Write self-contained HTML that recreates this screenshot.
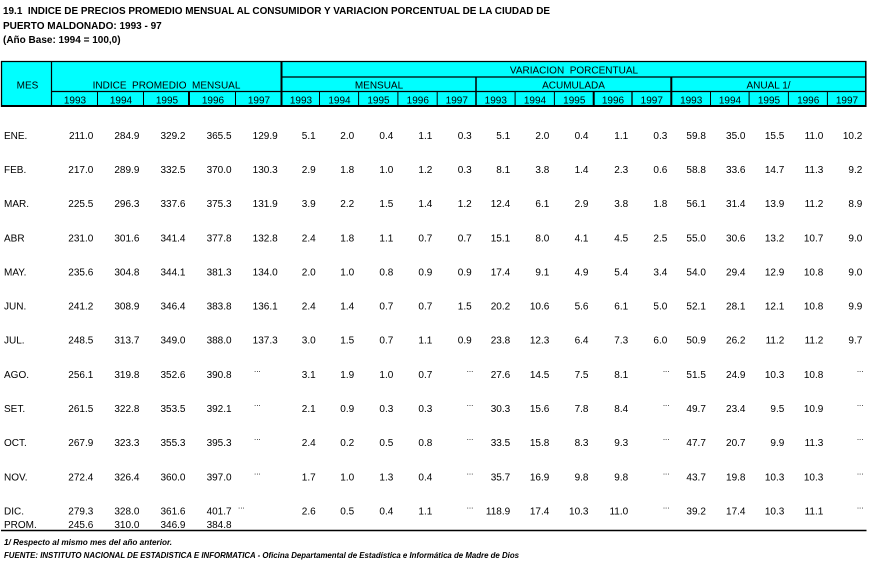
<!DOCTYPE html>
<html><head><meta charset="utf-8"><style>
html,body{margin:0;padding:0;background:#fff;width:869px;height:563px;overflow:hidden}
svg text{font-family:"Liberation Sans",Arial,sans-serif;font-size:10px;fill:#000;white-space:pre}
.r text{text-anchor:end}
.r text.m{text-anchor:start}
.c text{text-anchor:middle}
.d{font-size:8px}
.b{font-weight:bold}
.f{font-weight:bold;font-style:italic;font-size:8px}
</style></head><body>
<svg width="869" height="563" viewBox="0 0 869 563" xmlns="http://www.w3.org/2000/svg">
<rect width="869" height="563" fill="#fff"/>
<text class="b" x="3" y="14" textLength="547" lengthAdjust="spacingAndGlyphs">19.1  INDICE DE PRECIOS PROMEDIO MENSUAL AL CONSUMIDOR Y VARIACION PORCENTUAL DE LA CIUDAD DE</text>
<text class="b" x="3" y="29">PUERTO MALDONADO: 1993 - 97</text>
<text class="b" x="3" y="43">(Año Base: 1994 = 100,0)</text>

<!-- header -->
<rect x="1" y="61" width="865" height="45" fill="#00FFFF"/>
<g stroke="#000" fill="none">
<line x1="1" y1="61.5" x2="866.5" y2="61.5" stroke-width="1.3"/>
<line x1="1.5" y1="61" x2="1.5" y2="107" stroke-width="1.3"/>
<line x1="865.8" y1="61" x2="865.8" y2="107" stroke-width="1.5"/>
<line x1="1" y1="106" x2="866.5" y2="106" stroke-width="2"/>
<line x1="51.5" y1="61" x2="51.5" y2="106" stroke-width="1.2"/>
<line x1="51" y1="91.5" x2="281" y2="91.5" stroke-width="1.2"/>
<line x1="97.5" y1="91.5" x2="97.5" y2="106" stroke-width="1"/>
<line x1="143.5" y1="91.5" x2="143.5" y2="106" stroke-width="1"/>
<line x1="189" y1="91.5" x2="189" y2="106" stroke-width="2"/>
<line x1="235.5" y1="91.5" x2="235.5" y2="106" stroke-width="1"/>
<line x1="281.5" y1="61" x2="281.5" y2="106" stroke-width="2"/>
<line x1="282" y1="77" x2="866" y2="77" stroke-width="1.2"/>
<line x1="282" y1="91.5" x2="866" y2="91.5" stroke-width="1.2"/>
<line x1="476" y1="77" x2="476" y2="106" stroke-width="1.5"/>
<line x1="671.3" y1="77" x2="671.3" y2="106" stroke-width="2"/>
<line x1="319.5" y1="91.5" x2="319.5" y2="106" stroke-width="1"/>
<line x1="358.6" y1="91.5" x2="358.6" y2="106" stroke-width="1"/>
<line x1="397.9" y1="91.5" x2="397.9" y2="106" stroke-width="1"/>
<line x1="437.2" y1="91.5" x2="437.2" y2="106" stroke-width="1"/>
<line x1="515.1" y1="91.5" x2="515.1" y2="106" stroke-width="1"/>
<line x1="554.4" y1="91.5" x2="554.4" y2="106" stroke-width="1"/>
<line x1="593.7" y1="91.5" x2="593.7" y2="106" stroke-width="2"/>
<line x1="632" y1="91.5" x2="632" y2="106" stroke-width="1.3"/>
<line x1="710.5" y1="91.5" x2="710.5" y2="106" stroke-width="1"/>
<line x1="749.1" y1="91.5" x2="749.1" y2="106" stroke-width="1"/>
<line x1="788.4" y1="91.5" x2="788.4" y2="106" stroke-width="1"/>
<line x1="827.4" y1="91.5" x2="827.4" y2="106" stroke-width="1"/>
<line x1="1" y1="530.5" x2="866.5" y2="530.5" stroke-width="1.5"/>
</g>
<g class="c">
<text x="27.5" y="88.5">MES</text>
<text x="166.5" y="88.5">INDICE  PROMEDIO  MENSUAL</text>
<text x="574" y="73.5">VARIACION  PORCENTUAL</text>
<text x="379" y="88.5">MENSUAL</text>
<text x="573.5" y="88.5">ACUMULADA</text>
<text x="768.5" y="88.5">ANUAL 1/</text>
</g>
<g class="c" transform="translate(0,103.5)">
<text x="75">1993</text><text x="121">1994</text><text x="167">1995</text><text x="213">1996</text><text x="259">1997</text>
<text x="301">1993</text><text x="339.5">1994</text><text x="378.5">1995</text><text x="417.8">1996</text><text x="456.8">1997</text>
<text x="495.8">1993</text><text x="535">1994</text><text x="574.3">1995</text><text x="613">1996</text><text x="651.8">1997</text>
<text x="691.2">1993</text><text x="730">1994</text><text x="769">1995</text><text x="808.2">1996</text><text x="847">1997</text>
</g>

<!-- rows -->
<g class="r" transform="translate(0,138.8)">
<text class="m" x="4">ENE.</text>
<text x="93.3">211.0</text><text x="139.4">284.9</text><text x="185.5">329.2</text><text x="231.6">365.5</text><text x="277.7">129.9</text>
<text x="315.7">5.1</text><text x="354.2">2.0</text><text x="393.3">0.4</text><text x="432.3">1.1</text><text x="471.7">0.3</text>
<text x="510.2">5.1</text><text x="549.3">2.0</text><text x="588.5">0.4</text><text x="628.2">1.1</text><text x="667.3">0.3</text>
<text x="705.9">59.8</text><text x="745.5">35.0</text><text x="784.3">15.5</text><text x="823.3">11.0</text><text x="862.3">10.2</text>
</g>
<g class="r" transform="translate(0,173)">
<text class="m" x="4">FEB.</text>
<text x="93.3">217.0</text><text x="139.4">289.9</text><text x="185.5">332.5</text><text x="231.6">370.0</text><text x="277.7">130.3</text>
<text x="315.7">2.9</text><text x="354.2">1.8</text><text x="393.3">1.0</text><text x="432.3">1.2</text><text x="471.7">0.3</text>
<text x="510.2">8.1</text><text x="549.3">3.8</text><text x="588.5">1.4</text><text x="628.2">2.3</text><text x="667.3">0.6</text>
<text x="705.9">58.8</text><text x="745.5">33.6</text><text x="784.3">14.7</text><text x="823.3">11.3</text><text x="862.3">9.2</text>
</g>
<g class="r" transform="translate(0,207.1)">
<text class="m" x="4">MAR.</text>
<text x="93.3">225.5</text><text x="139.4">296.3</text><text x="185.5">337.6</text><text x="231.6">375.3</text><text x="277.7">131.9</text>
<text x="315.7">3.9</text><text x="354.2">2.2</text><text x="393.3">1.5</text><text x="432.3">1.4</text><text x="471.7">1.2</text>
<text x="510.2">12.4</text><text x="549.3">6.1</text><text x="588.5">2.9</text><text x="628.2">3.8</text><text x="667.3">1.8</text>
<text x="705.9">56.1</text><text x="745.5">31.4</text><text x="784.3">13.9</text><text x="823.3">11.2</text><text x="862.3">8.9</text>
</g>
<g class="r" transform="translate(0,241.3)">
<text class="m" x="4">ABR</text>
<text x="93.3">231.0</text><text x="139.4">301.6</text><text x="185.5">341.4</text><text x="231.6">377.8</text><text x="277.7">132.8</text>
<text x="315.7">2.4</text><text x="354.2">1.8</text><text x="393.3">1.1</text><text x="432.3">0.7</text><text x="471.7">0.7</text>
<text x="510.2">15.1</text><text x="549.3">8.0</text><text x="588.5">4.1</text><text x="628.2">4.5</text><text x="667.3">2.5</text>
<text x="705.9">55.0</text><text x="745.5">30.6</text><text x="784.3">13.2</text><text x="823.3">10.7</text><text x="862.3">9.0</text>
</g>
<g class="r" transform="translate(0,275.4)">
<text class="m" x="4">MAY.</text>
<text x="93.3">235.6</text><text x="139.4">304.8</text><text x="185.5">344.1</text><text x="231.6">381.3</text><text x="277.7">134.0</text>
<text x="315.7">2.0</text><text x="354.2">1.0</text><text x="393.3">0.8</text><text x="432.3">0.9</text><text x="471.7">0.9</text>
<text x="510.2">17.4</text><text x="549.3">9.1</text><text x="588.5">4.9</text><text x="628.2">5.4</text><text x="667.3">3.4</text>
<text x="705.9">54.0</text><text x="745.5">29.4</text><text x="784.3">12.9</text><text x="823.3">10.8</text><text x="862.3">9.0</text>
</g>
<g class="r" transform="translate(0,309.6)">
<text class="m" x="4">JUN.</text>
<text x="93.3">241.2</text><text x="139.4">308.9</text><text x="185.5">346.4</text><text x="231.6">383.8</text><text x="277.7">136.1</text>
<text x="315.7">2.4</text><text x="354.2">1.4</text><text x="393.3">0.7</text><text x="432.3">0.7</text><text x="471.7">1.5</text>
<text x="510.2">20.2</text><text x="549.3">10.6</text><text x="588.5">5.6</text><text x="628.2">6.1</text><text x="667.3">5.0</text>
<text x="705.9">52.1</text><text x="745.5">28.1</text><text x="784.3">12.1</text><text x="823.3">10.8</text><text x="862.3">9.9</text>
</g>
<g class="r" transform="translate(0,343.7)">
<text class="m" x="4">JUL.</text>
<text x="93.3">248.5</text><text x="139.4">313.7</text><text x="185.5">349.0</text><text x="231.6">388.0</text><text x="277.7">137.3</text>
<text x="315.7">3.0</text><text x="354.2">1.5</text><text x="393.3">0.7</text><text x="432.3">1.1</text><text x="471.7">0.9</text>
<text x="510.2">23.8</text><text x="549.3">12.3</text><text x="588.5">6.4</text><text x="628.2">7.3</text><text x="667.3">6.0</text>
<text x="705.9">50.9</text><text x="745.5">26.2</text><text x="784.3">11.2</text><text x="823.3">11.2</text><text x="862.3">9.7</text>
</g>
<g class="r" transform="translate(0,377.9)">
<text class="m" x="4">AGO.</text>
<text x="93.3">256.1</text><text x="139.4">319.8</text><text x="185.5">352.6</text><text x="231.6">390.8</text><text class="m d" x="254" y="-6">...</text>
<text x="315.7">3.1</text><text x="354.2">1.9</text><text x="393.3">1.0</text><text x="432.3">0.7</text><text class="d" x="473.3" y="-6">...</text>
<text x="510.2">27.6</text><text x="549.3">14.5</text><text x="588.5">7.5</text><text x="628.2">8.1</text><text class="d" x="669.5" y="-6">...</text>
<text x="705.9">51.5</text><text x="745.5">24.9</text><text x="784.3">10.3</text><text x="823.3">10.8</text><text class="d" x="863.5" y="-6">...</text>
</g>
<g class="r" transform="translate(0,412)">
<text class="m" x="4">SET.</text>
<text x="93.3">261.5</text><text x="139.4">322.8</text><text x="185.5">353.5</text><text x="231.6">392.1</text><text class="m d" x="254" y="-6">...</text>
<text x="315.7">2.1</text><text x="354.2">0.9</text><text x="393.3">0.3</text><text x="432.3">0.3</text><text class="d" x="473.3" y="-6">...</text>
<text x="510.2">30.3</text><text x="549.3">15.6</text><text x="588.5">7.8</text><text x="628.2">8.4</text><text class="d" x="669.5" y="-6">...</text>
<text x="705.9">49.7</text><text x="745.5">23.4</text><text x="784.3">9.5</text><text x="823.3">10.9</text><text class="d" x="863.5" y="-6">...</text>
</g>
<g class="r" transform="translate(0,446.2)">
<text class="m" x="4">OCT.</text>
<text x="93.3">267.9</text><text x="139.4">323.3</text><text x="185.5">355.3</text><text x="231.6">395.3</text><text class="m d" x="254" y="-6">...</text>
<text x="315.7">2.4</text><text x="354.2">0.2</text><text x="393.3">0.5</text><text x="432.3">0.8</text><text class="d" x="473.3" y="-6">...</text>
<text x="510.2">33.5</text><text x="549.3">15.8</text><text x="588.5">8.3</text><text x="628.2">9.3</text><text class="d" x="669.5" y="-6">...</text>
<text x="705.9">47.7</text><text x="745.5">20.7</text><text x="784.3">9.9</text><text x="823.3">11.3</text><text class="d" x="863.5" y="-6">...</text>
</g>
<g class="r" transform="translate(0,480.3)">
<text class="m" x="4">NOV.</text>
<text x="93.3">272.4</text><text x="139.4">326.4</text><text x="185.5">360.0</text><text x="231.6">397.0</text><text class="m d" x="254" y="-6">...</text>
<text x="315.7">1.7</text><text x="354.2">1.0</text><text x="393.3">1.3</text><text x="432.3">0.4</text><text class="d" x="473.3" y="-6">...</text>
<text x="510.2">35.7</text><text x="549.3">16.9</text><text x="588.5">9.8</text><text x="628.2">9.8</text><text class="d" x="669.5" y="-6">...</text>
<text x="705.9">43.7</text><text x="745.5">19.8</text><text x="784.3">10.3</text><text x="823.3">10.3</text><text class="d" x="863.5" y="-6">...</text>
</g>
<g class="r" transform="translate(0,514.5)">
<text class="m" x="4">DIC.</text>
<text x="93.3">279.3</text><text x="139.4">328.0</text><text x="185.5">361.6</text><text x="231.6">401.7</text><text class="m d" x="238" y="-6">...</text>
<text x="315.7">2.6</text><text x="354.2">0.5</text><text x="393.3">0.4</text><text x="432.3">1.1</text><text class="d" x="473.3" y="-6">...</text>
<text x="510.2">118.9</text><text x="549.3">17.4</text><text x="588.5">10.3</text><text x="628.2">11.0</text><text class="d" x="669.5" y="-6">...</text>
<text x="705.9">39.2</text><text x="745.5">17.4</text><text x="784.3">10.3</text><text x="823.3">11.1</text><text class="d" x="863.5" y="-6">...</text>
</g>
<g class="r" transform="translate(0,527.8)">
<text class="m" x="4">PROM.</text>
<text x="93.3">245.6</text><text x="139.4">310.0</text><text x="185.5">346.9</text><text x="231.6">384.8</text>
</g>

<text class="f" x="4" y="545" textLength="168" lengthAdjust="spacingAndGlyphs">1/ Respecto al mismo mes del año anterior.</text>
<text class="f" x="4" y="558" textLength="515" lengthAdjust="spacingAndGlyphs">FUENTE: INSTITUTO NACIONAL DE ESTADISTICA E INFORMATICA - Oficina Departamental de Estadística e Informática de Madre de Dios</text>
</svg>
</body></html>
